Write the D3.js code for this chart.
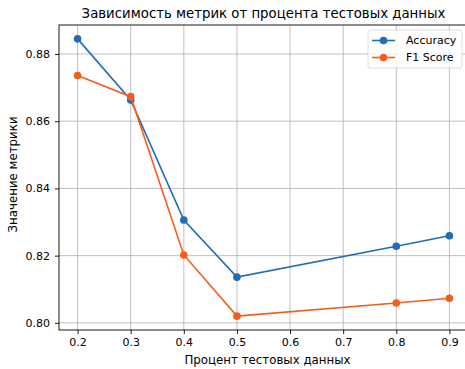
<!DOCTYPE html>
<html>
<head>
<meta charset="utf-8">
<script src="https://cdn.jsdelivr.net/npm/d3@7"></script>
<style>
  body { margin: 0; background: #fff; }
  text { font-family: "DejaVu Sans", sans-serif; fill: #000; }
</style>
</head>
<body>
<script>
// Data
var testShares = [0.2, 0.3, 0.4, 0.5, 0.8, 0.9];
var accuracy = [0.8845, 0.8663, 0.8306, 0.8136, 0.8228, 0.8259];
var f1Score = [0.8736, 0.8673, 0.8202, 0.8020, 0.8059, 0.8073];
var xTicks = [0.2, 0.3, 0.4, 0.5, 0.6, 0.7, 0.8, 0.9];
var yTicks = [0.80, 0.82, 0.84, 0.86, 0.88];
var seriesNames = ["Accuracy", "F1 Score"];
var seriesColors = ["#1f6db2", "#f45d1c"];

var svgWidth = 465;
var svgHeight = 369;

var chartMargin = { top: 25, right: -3, bottom: 39, left: 59 };
var chartWidth = svgWidth - chartMargin.left - chartMargin.right;
var chartHeight = svgHeight - chartMargin.top - chartMargin.bottom;

var svg = d3.select("body")
            .append("svg")
            .attr("width", svgWidth)
            .attr("height", svgHeight);

var chartGroup = svg.append("g")
                    .attr("transform", `translate(${chartMargin.left}, ${chartMargin.top})`);

// matplotlib-like 5% margins
var xPad = (0.9 - 0.2) * 0.05;
var x = d3.scaleLinear()
          .domain([0.2 - xPad, 0.9 + xPad])
          .range([0, chartWidth]);

var allVals = accuracy.concat(f1Score);
var yMin = d3.min(allVals), yMax = d3.max(allVals);
var yPad = (yMax - yMin) * 0.05;
var y = d3.scaleLinear()
          .domain([yMin - yPad, yMax + yPad])
          .range([chartHeight, 0]);

// grid
chartGroup.append("g")
          .selectAll("line.vg")
          .data(xTicks)
          .enter()
          .append("line")
          .attr("x1", d => x(d)).attr("x2", d => x(d))
          .attr("y1", 0).attr("y2", chartHeight)
          .attr("stroke", "#b0b0b0").attr("stroke-width", 0.8);

chartGroup.append("g")
          .selectAll("line.hg")
          .data(yTicks)
          .enter()
          .append("line")
          .attr("y1", d => y(d)).attr("y2", d => y(d))
          .attr("x1", 0).attr("x2", chartWidth)
          .attr("stroke", "#b0b0b0").attr("stroke-width", 0.8);

// axes
var xAxis = chartGroup.append("g")
          .attr("transform", "translate(0," + chartHeight + ")")
          .call(d3.axisBottom(x).tickValues(xTicks).tickFormat(d3.format(".1f")).tickSize(4).tickPadding(4));

var yAxis = chartGroup.append("g")
          .call(d3.axisLeft(y).tickValues(yTicks).tickFormat(d3.format(".2f")).tickSize(4).tickPadding(5));

[xAxis, yAxis].forEach(function(a) {
  a.selectAll("text").style("font-size", "11px").style("font-family", "DejaVu Sans");
  a.selectAll("line").attr("stroke", "#000").attr("stroke-width", 0.9);
  a.select(".domain").remove();
});

// frame
chartGroup.append("rect")
          .attr("width", chartWidth)
          .attr("height", chartHeight)
          .attr("fill", "none")
          .attr("stroke", "#000")
          .attr("stroke-width", 0.9);

// lines and markers
[accuracy, f1Score].forEach(function(vals, i) {
  var pts = testShares.map((t, j) => [t, vals[j]]);
  var line = d3.line().x(d => x(d[0])).y(d => y(d[1]));
  chartGroup.append("path")
            .datum(pts)
            .attr("d", line)
            .attr("fill", "none")
            .attr("stroke", seriesColors[i])
            .attr("stroke-width", 1.6);
  chartGroup.selectAll("circle.s" + i)
            .data(pts)
            .enter()
            .append("circle")
            .attr("cx", d => x(d[0]))
            .attr("cy", d => y(d[1]))
            .attr("r", 3.8)
            .attr("fill", seriesColors[i]);
});

// legend
var legend = chartGroup.append("g")
                       .attr("transform", "translate(" + (chartWidth - 100) + ",5)");
legend.append("rect")
      .attr("width", 94)
      .attr("height", 38)
      .attr("rx", 2.5)
      .attr("fill", "#fff")
      .attr("fill-opacity", 0.8)
      .attr("stroke", "#d6d6d6")
      .attr("stroke-width", 0.8);
seriesNames.forEach(function(name, i) {
  var ly = 10.5 + i * 17;
  legend.append("line")
        .attr("x1", 4).attr("x2", 27)
        .attr("y1", ly).attr("y2", ly)
        .attr("stroke", seriesColors[i]).attr("stroke-width", 1.6);
  legend.append("circle")
        .attr("cx", 15.5).attr("cy", ly).attr("r", 3.8)
        .attr("fill", seriesColors[i]);
  legend.append("text")
        .attr("x", 38).attr("y", ly)
        .attr("dy", "0.35em")
        .style("font-size", "11px")
        .text(name);
});

// title
svg.append("text")
   .attr("x", chartMargin.left + chartWidth / 2)
   .attr("y", 18)
   .style("text-anchor", "middle")
   .style("font-size", "13.3px")
   .text("Зависимость метрик от процента тестовых данных");

// x label
svg.append("text")
   .attr("x", chartMargin.left + chartWidth / 2 + 4)
   .attr("y", 364)
   .style("text-anchor", "middle")
   .style("font-size", "11.8px")
   .text("Процент тестовых данных");

// y label
svg.append("text")
   .attr("transform", "rotate(-90)")
   .attr("x", -(chartMargin.top + chartHeight / 2) + 3)
   .attr("y", 17)
   .style("text-anchor", "middle")
   .style("font-size", "11.8px")
   .text("Значение метрики");
</script>
</body>
</html>
